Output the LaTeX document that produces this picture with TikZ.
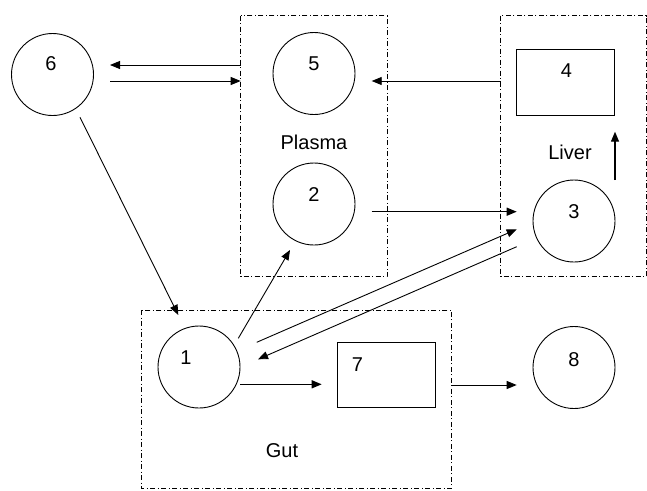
\documentclass[tikz,border=0pt]{standalone}
\usepackage{fontspec}
\setmainfont{Liberation Sans}
\usetikzlibrary{arrows.meta}
\begin{document}
\begin{tikzpicture}[x=1pt,y=-1pt,
  comp/.style={draw,circle,line width=0.9pt,minimum size=82pt,inner sep=0pt},
  store/.style={draw,rectangle,line width=0.9pt,inner sep=0pt},
  region/.style={draw,line width=0.9pt,dash pattern=on 5pt off 2.5pt on 1pt off 2.5pt},
  lbl/.style={font=\fontsize{20}{24}\selectfont,inner sep=0pt},
  flow/.style={line width=0.9pt,-{Triangle[length=10pt,width=8pt]}},
  bflow/.style={line width=1.3pt,-{Triangle[length=10pt,width=8pt]}}]
\useasboundingbox (0,0) rectangle (647,490);
% regions
\draw[region] (240.7,15.7) rectangle (387,276.7);
\draw[region] (500.7,15.7) rectangle (646.3,276.7);
\draw[region] (141.7,310) rectangle (451.7,488.3);
\node[lbl] (plasma) at (314,142) {Plasma};
\node[lbl] (liver) at (570,152) {Liver};
\node[lbl] (gut) at (282,451) {Gut};
% compartments
\node[comp] (c6) at (52.5,74.5) {};
\node[comp] (c5) at (314,73.5) {};
\node[comp] (c2) at (314,204) {};
\node[comp] (c3) at (574,221) {};
\node[comp] (c1) at (199,367) {};
\node[comp] (c8) at (574,367.5) {};
\node[store,minimum width=98pt,minimum height=65.7pt] (b4) at (565.9,82.2) {};
\node[store,minimum width=98pt,minimum height=65.4pt] (b7) at (386.7,375) {};
\node[lbl] (t6) at (51,64) {6};
\node[lbl] (t5) at (314,64) {5};
\node[lbl] (t2) at (314,195) {2};
\node[lbl] (t3) at (574,212) {3};
\node[lbl] (t1) at (186,358) {1};
\node[lbl] (t8) at (574,359.5) {8};
\node[lbl] (t4) at (566.5,71) {4};
\node[lbl] (t7) at (357.5,364.5) {7};
% connector end points
\coordinate (p56s) at (240.7,65);
\coordinate (p56e) at (110,65);
\coordinate (p65s) at (110,81);
\coordinate (p65e) at (240.7,81);
\coordinate (p45s) at (500.7,81);
\coordinate (p45e) at (371.7,81);
\coordinate (p34s) at (615,180);
\coordinate (p34e) at (615,131.7);
\coordinate (p23s) at (371.7,211.7);
\coordinate (p23e) at (516.7,211.7);
\coordinate (p13s) at (256.7,342.3);
\coordinate (p13e) at (516.7,229.3);
\coordinate (p31s) at (516.7,246.7);
\coordinate (p31e) at (258,359.3);
\coordinate (p61s) at (80,117.3);
\coordinate (p61e) at (178.3,315);
\coordinate (p12s) at (238.3,338.3);
\coordinate (p12e) at (290,250);
\coordinate (p17s) at (240,384.3);
\coordinate (p17e) at (321.7,384.3);
\coordinate (p78s) at (451.7,385);
\coordinate (p78e) at (516.7,385);
% connectors
\draw[flow] (p56s) -- (p56e);
\draw[flow] (p65s) -- (p65e);
\draw[flow] (p45s) -- (p45e);
\draw[bflow] (p34s) -- (p34e);
\draw[bflow] (p23s) -- (p23e);
\draw[flow] (p13s) -- (p13e);
\draw[flow] (p31s) -- (p31e);
\draw[flow] (p61s) -- (p61e);
\draw[flow] (p12s) -- (p12e);
\draw[bflow] (p17s) -- (p17e);
\draw[flow] (p78s) -- (p78e);
\end{tikzpicture}
\end{document}
